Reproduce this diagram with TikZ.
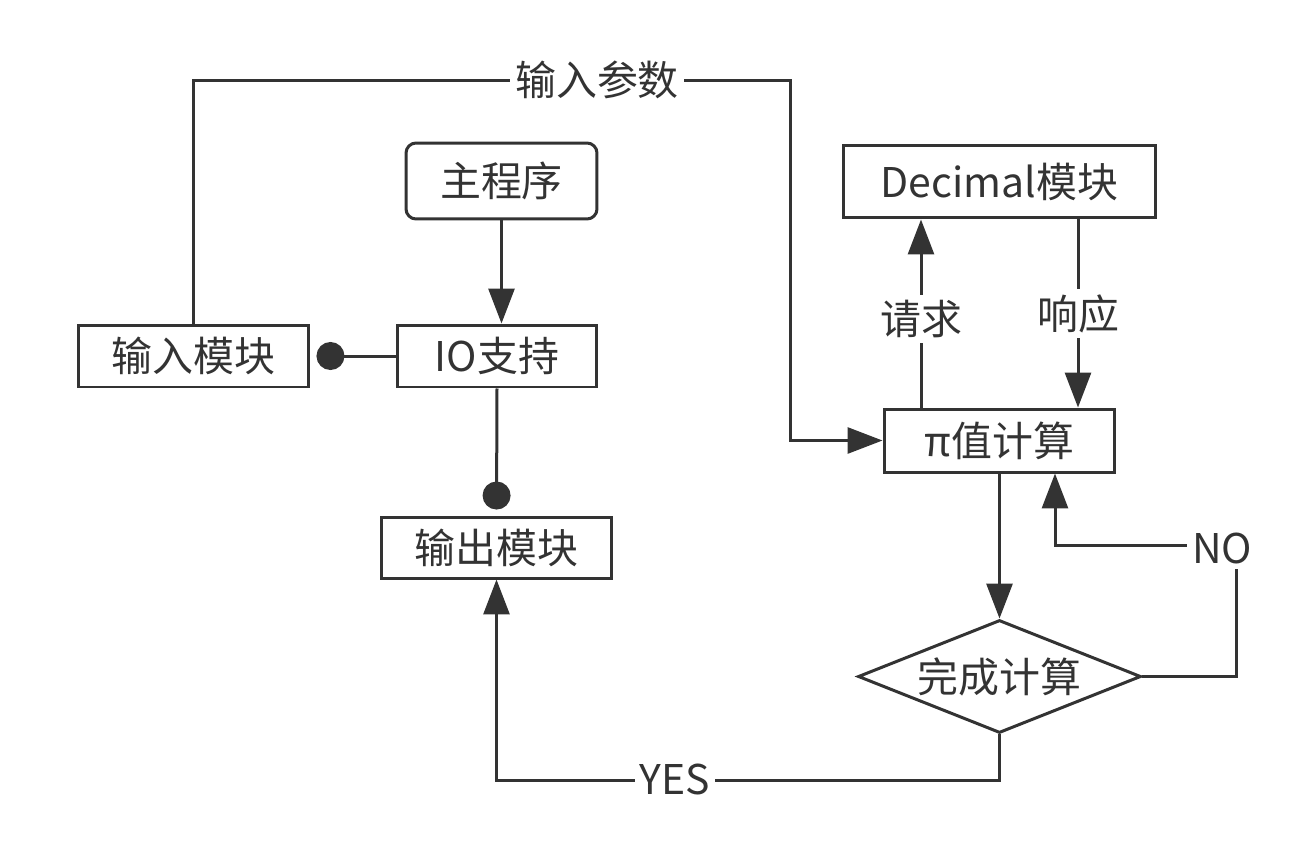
\documentclass[tikz,border=0pt]{standalone}
\usepackage{fontspec}
\setmainfont{Noto Sans CJK SC}
\usetikzlibrary{arrows.meta}
\usetikzlibrary{shapes}
\usetikzlibrary{calc}
\definecolor{ink}{HTML}{333333}
\tikzset{
  box/.style={draw=ink,line width=0.06cm,text=ink,inner sep=0pt,
    minimum width=4.62cm,minimum height=1.24cm,font=\fontsize{23.3}{27}\selectfont},
  link/.style={draw=ink,line width=0.06cm},
  flow/.style={link,-{Triangle[length=0.7cm,width=0.52cm]}},
  dot/.style={link,-{Circle[length=0.56cm]},shorten >=0.12cm},
  lbl/.style={fill=white,text=ink,inner sep=3pt,font=\fontsize{23.3}{27}\selectfont}
}

\begin{document}
\begin{tikzpicture}[x=0.02cm,y=-0.02cm]
  %
  \useasboundingbox (0,0) rectangle (1313,856);

  % blocks
  \node[box,rounded corners=0.2cm,minimum width=3.82cm,minimum height=1.52cm] (main) at (501.5,181) {主程序};
  \node[box,minimum width=4cm] (io) at (497,356) {IO支持};
  \node[box] (in) at (193.5,356) {输入模块};
  \node[box,minimum height=1.22cm] (out) at (496.5,547.5) {输出模块};
  \node[box,minimum width=6.26cm,minimum height=1.46cm] (dec) at (999.5,181.5) {Decimal模块};
  \node[box,minimum height=1.26cm] (pi) at (999.5,440.5) {π值计算};
  \node[box,diamond,aspect=2.5,minimum width=5.66cm,minimum height=2.26cm] (done) at (999.5,676.5) {完成计算};

  % bends
  \coordinate (top) at (790,80);
  \coordinate (req) at (921,0);
  \coordinate (resp) at (1078,0);
  \coordinate (back) at (1055,0);
  \coordinate (turn) at (1236,545);

  % connectors
  \draw[flow] (main.south) -- (main.south |- io.north);
  \draw[dot] (io.west) -- (in.east);
  \draw[dot] (io.south) -- (out.north);
  \draw[flow] (in.north) |- (top) |- (pi.west);
  \node[lbl] (param) at (597,80) {输入参数};

  \draw[flow] (req |- pi.north) -- node[lbl,pos=0.47] (ask) {请求} (req |- dec.south);
  \draw[flow] (resp |- dec.south) -- node[lbl,pos=0.5] (answer) {响应} (resp |- pi.north);

  \draw[flow] (pi.south) -- (done.north);
  \draw[flow] (done.east) -| (turn) -| (back |- pi.south);
  \node[lbl] (no) at (1222,548) {NO};
  \draw[flow] (done.south) -- ++(0,46) -| (out.south);
  \node[lbl] (yes) at (675,779) {YES};

\end{tikzpicture}
\end{document}
